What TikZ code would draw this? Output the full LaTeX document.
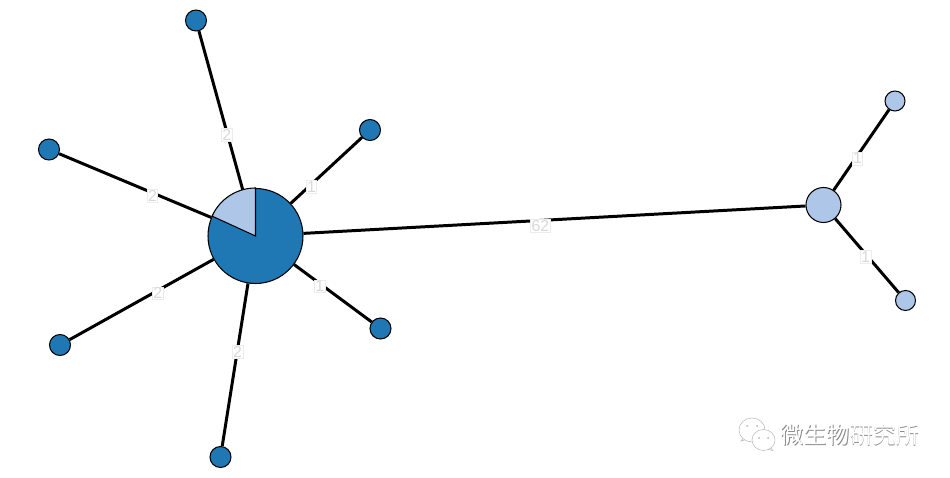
\documentclass[tikz,border=0pt]{standalone}
\usepackage{fontspec}
\usepackage{xcolor}
\usepackage{tikz}
\setsansfont{Liberation Sans}
\newfontfamily\cjkfont{Noto Sans CJK SC}
\definecolor{taxonblue}{HTML}{1F78B4}
\definecolor{taxonpale}{HTML}{AEC7E8}
\tikzset{
  taxon/.style={circle, draw=black, line width=0.6pt, fill=taxonblue, inner sep=0pt, minimum size=0.42cm},
  paletaxon/.style={taxon, fill=taxonpale, minimum size=0.40cm},
  link/.style={line width=1.7pt, black},
  weight/.style={font=\sffamily\fontsize{9}{10}\selectfont, text=gray!30, fill=white, draw=gray!15, line width=0.4pt, inner sep=0.5pt, yshift=-0.06cm},
  bubble/.style={draw=gray!55, line width=0.3pt, fill=white}
}
\begin{document}
\begin{tikzpicture}[x=0.02cm, y=0.02cm]
  \useasboundingbox (0,0) rectangle (950,477);

  %% Main sample, two-part pie
  \node[taxon, minimum size=1.9cm] (hub) at (255.5,241) {};
  \draw[line width=0.6pt, fill=taxonpale] (hub.center) -- (hub.north) arc (90:156:0.95cm) -- cycle;

  %% Second sample
  \node[paletaxon, minimum size=0.7cm] (side) at (823.5,272) {};

  %% Leaves around the main sample
  \node[taxon] (north) at (196,456.5) {};
  \node[taxon] (west) at (49,327.5) {};
  \node[taxon] (southwest) at (60,132) {};
  \node[taxon] (south) at (220.5,20) {};
  \node[taxon] (northeast) at (370,347) {};
  \node[taxon] (southeast) at (380.5,148.5) {};

  %% Leaves around the second sample
  \node[paletaxon] (upper) at (895,376) {};
  \node[paletaxon] (lower) at (905.5,176.5) {};

  %% Links with their weights
  \draw[link] (hub) -- node[weight, pos=0.364] {2} (north);
  \draw[link] (hub) -- node[weight, pos=0.386] {2} (west);
  \draw[link] (hub) -- node[weight, pos=0.387] {2} (southwest);
  \draw[link] (hub) -- node[weight, pos=0.402] {2} (south);
  \draw[link] (hub) -- node[weight, pos=0.292] {1} (northeast);
  \draw[link] (hub) -- node[weight, pos=0.33] {1} (southeast);
  \draw[link] (hub) -- node[weight, pos=0.472, yshift=-0.05cm] {62} (side);
  \draw[link] (side) -- node[weight, pos=0.43] {1} (upper);
  \draw[link] (side) -- node[weight, pos=0.479] {1} (lower);

  %% Watermark icon
  \draw[bubble] (745,41) -- (741,36) -- (750,38.5) -- cycle;
  \draw[bubble] (752,47) ellipse (13 and 12);
  \draw[bubble] (768,32) -- (773,26.5) -- (762,29) -- cycle;
  \draw[bubble] (763.5,37) ellipse (11.5 and 10.5);
  \fill[gray!55] (747,51) circle (1) (757,51) circle (1);
  \fill[gray!55] (759,39) circle (1) (768,39) circle (1);

  %% Watermark text
  \node[font=\cjkfont\fontsize{13.1}{14}\selectfont, text=gray!90, inner sep=0pt] (markshadow) at (850.8,41.2) {微生物研究所};
  \node[font=\cjkfont\fontsize{13.1}{14}\selectfont, text=white, inner sep=0pt] (mark) at (850,42) {微生物研究所};
\end{tikzpicture}
\end{document}
